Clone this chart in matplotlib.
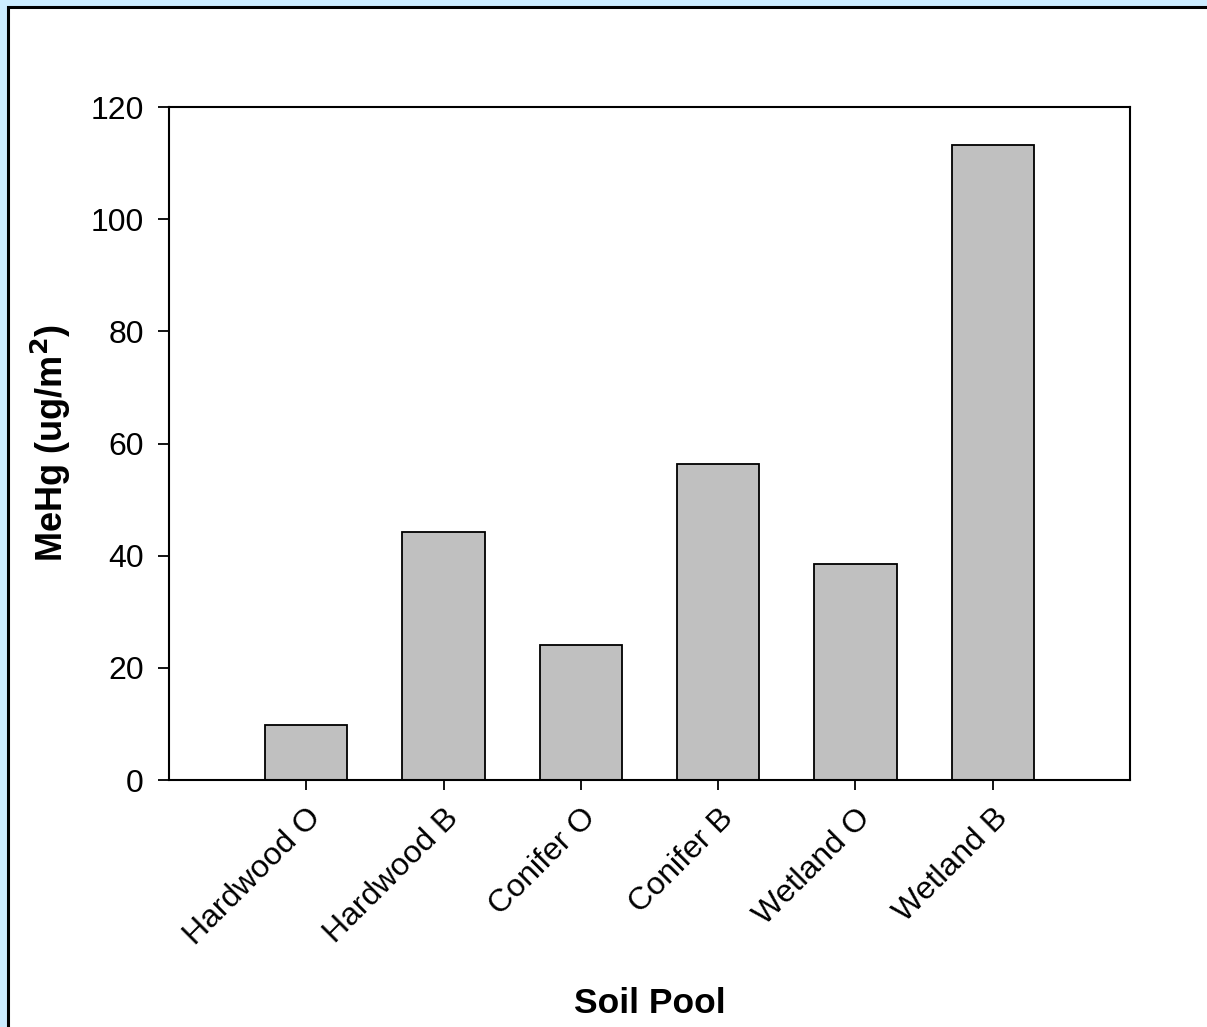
import matplotlib
matplotlib.use('Agg')
import matplotlib.pyplot as plt
import numpy as np
from matplotlib.patches import Rectangle

plt.rcParams['font.family'] = ['Liberation Sans', 'DejaVu Sans']

# MeHg pools by soil type
pools = ['Hardwood O', 'Hardwood B', 'Conifer O', 'Conifer B', 'Wetland O', 'Wetland B']
mehg = [9.8, 44.2, 24.0, 56.3, 38.5, 113.3]

fig = plt.figure(figsize=(12.07, 10.27), dpi=100, facecolor='#CCECFF')

# white panel with black frame, running off the right and bottom edges
panel = Rectangle((7.8 / 1207, -0.05), 1.1, 1.05 - 6.8 / 1027, transform=fig.transFigure,
                  facecolor='white', edgecolor='black', linewidth=2.2, zorder=-1)
fig.patches.append(panel)

ax = fig.add_axes([169 / 1207, 247 / 1027, 961 / 1207, 673 / 1027])
ax.set_facecolor('white')

x = np.arange(len(pools))
ax.bar(x, mehg, width=0.6, color='#C0C0C0', edgecolor='black', linewidth=1.3, zorder=2)

ax.set_xlim(-1, len(pools))
ax.set_ylim(0, 120)
ax.set_yticks(np.arange(0, 121, 20))
ax.set_xticks(x)
ax.set_xticklabels(pools, rotation=45, ha='right', va='top', rotation_mode='anchor')

ax.tick_params(axis='both', labelsize=23, width=1.3, length=8, direction='out')
ax.tick_params(axis='x', length=7.5, pad=9)
ax.tick_params(axis='y', pad=10)
for s in ax.spines.values():
    s.set_linewidth(1.5)

ax.set_ylabel('MeHg (ug/m$^\\mathbf{2}$)', fontsize=26, fontweight='bold', labelpad=13)
ax.set_xlabel('Soil Pool', fontsize=25.5, fontweight='bold', labelpad=26)

fig.savefig('out.png', dpi=100, facecolor=fig.get_facecolor())
